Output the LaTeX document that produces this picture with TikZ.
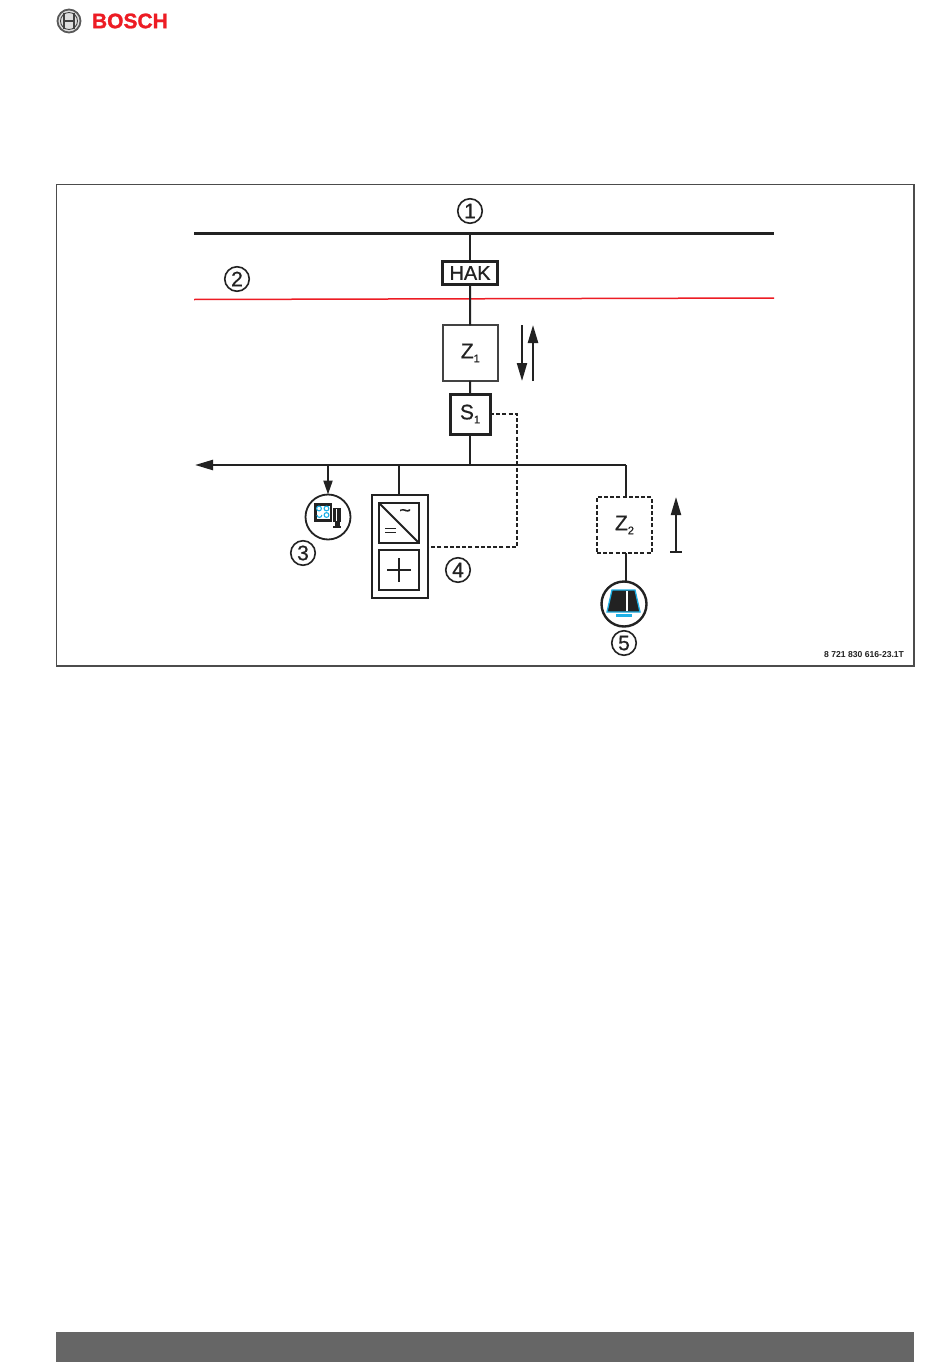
\documentclass[tikz,border=0pt]{standalone}
\usepackage{fontspec}
\setmainfont{Liberation Sans}
\newfontfamily\heavy[FakeBold=0.6]{Liberation Sans}
\newfontfamily\brandf[FakeBold=1.2]{Liberation Sans Bold}
\usetikzlibrary{arrows.meta,calc}
\definecolor{boschred}{HTML}{ED1C24}
\definecolor{cy}{HTML}{1DB0E6}
\definecolor{ink}{HTML}{222222}
\definecolor{bar}{HTML}{666666}
\newcommand{\lab}[1]{\fontsize{#1}{#1}\selectfont}
\newcommand{\sbs}[1]{\raisebox{-4pt}{\lab{11}#1}}
\tikzset{
 x=1pt,y=-1pt,
 every node/.style={inner sep=0pt,outer sep=0pt,text=ink},
 conn/.style={draw=ink,line width=2.1pt},
 dashconn/.style={draw=ink,line width=1.8pt,dash pattern=on 4pt off 2.2pt},
 rail/.style={draw=ink,line width=2.3pt},
 num/.style={circle,draw=ink,line width=1.6pt,minimum size=24.5pt,font=\heavy\lab{21}},
 sym/.style={circle,draw=ink,line width=1.8pt,minimum size=45pt},
 tip/.style={-{Triangle[length=18pt,width=10pt]}},
}
\begin{document}
\begin{tikzpicture}
\useasboundingbox (0,0) rectangle (950,1370);
\fill[white] (0,0) rectangle (950,1370);
% logo
\node[circle,draw=gray!70!black,line width=1.8pt,fill=gray!25,minimum size=23pt] (logo) at (69,21) {};
\draw[gray!50!black,line width=1.3pt] (64,13) -- (64,29) (74,13) -- (74,29) (64,21) -- (74,21);
\draw[gray!50!black,line width=.8pt] (logo.center) circle (8.5);
\node[font=\brandf\lab{21},text=boschred,anchor=west] (brand) at (92,21) {BOSCH};
% footer and frame
\fill[bar] (56,1332) rectangle (914,1362);
\draw[draw=gray!60!black,line width=1.2pt] (56.5,184.5) rectangle (914,666);
% rails
\coordinate (r1a) at (194,233.5); \coordinate (r1b) at (774,233.5);
\coordinate (r2a) at (194,299.5); \coordinate (r2b) at (774,298);
\coordinate (t1) at (470,233.5);
\coordinate (busend) at (195,465); \coordinate (bs) at (470,465);
\coordinate (b3) at (328,465); \coordinate (b4) at (399,465); \coordinate (b5) at (626,465);
\coordinate (dc1) at (517,414); \coordinate (dc2) at (517,547); \coordinate (dc3) at (428,547);
\draw[rail] (r1a) -- (r1b);
\draw[draw=boschred,line width=1.5pt] (r2a) -- (r2b);
% boxes
\node[draw=ink,line width=2.3pt,minimum width=55pt,minimum height=23pt,font=\heavy\lab{20}] (hak) at (470,273) {HAK};
\node[draw=ink!85,line width=1.9pt,minimum width=55.5pt,minimum height=55.5pt,font=\heavy\lab{21}] (z1) at (470.3,353) {Z\sbs{1}};
\node[draw=ink,line width=3pt,minimum width=40pt,minimum height=40pt,font=\heavy\lab{21}] (s1) at (470,414) {S\sbs{1}};
\node[draw=ink,line width=1.8pt,dash pattern=on 4pt off 2.2pt,minimum width=55pt,minimum height=56pt,font=\heavy\lab{21}] (z2) at (624.5,525) {Z\sbs{2}};
\node[draw=ink,line width=2.5pt,minimum width=56pt,minimum height=103pt] (inv) at (400,546.5) {};
\node[draw=ink,line width=2.5pt,minimum width=40pt,minimum height=40pt] (conv) at (399,523) {};
\node[draw=ink,line width=2.5pt,minimum width=40pt,minimum height=40pt] (batt) at (399,570) {};
\node[sym] (load) at (328,517) {};
\node[sym,line width=2.4pt] (car) at (624,604) {};
% connectors
\draw[conn] (t1) -- (hak.north -| t1);
\draw[conn] (hak) -- (z1);
\draw[conn] (z1) -- (s1);
\draw[conn] (s1) -- (bs);
\draw[rail,-{Triangle[length=18pt,width=10pt]}] (b5) -- (busend);
\draw[conn,-{Triangle[length=14pt,width=9pt]}] (b3) -- (load.north);
\draw[conn] (b4) -- (inv.north -| b4);
\draw[conn] (b5) -- (z2.north -| b5);
\draw[conn] (z2.south -| b5) -- (car.north -| b5);
\draw[dashconn] (s1.east) -- (dc1) -- (dc2) -- (dc3);
% inverter symbols
\draw[draw=ink,line width=2pt] (conv.north west) -- (conv.south east);
\node[font=\heavy\lab{20}] (ac) at (405,513) {\textasciitilde};
\draw[ink,line width=1.6pt] (385,528.5) -- (396,528.5) (385,532.5) -- (396,532.5);
\draw[ink,line width=2.3pt] (387,570) -- (411,570) (399,558) -- (399,582);
% load symbol
\fill[ink] (314,503) rectangle (332,522);
\fill[white] (316.5,505.5) rectangle (330,519);
\draw[cy,line width=1.1pt] (319,508.5) circle (2.4) (326.5,508.5) circle (2.4) (326.5,515) circle (2.4);
\draw[cy,line width=1.1pt] (317,515) arc (180:0:2.4);
\fill[ink] (333,508) rectangle (341,522);
\fill[white] (335.5,509) rectangle (336.5,521);
\fill[ink] (334.5,522) rectangle (339.5,526);
\fill[ink] (333,526) rectangle (341,528);
% car symbol
\fill[ink] (612,590) -- (635,590) -- (640,612) -- (607,612) -- cycle;
\draw[cy,line width=1.3pt] (612,590) -- (635,590) -- (640,612) -- (607,612) -- cycle;
\draw[white,line width=1.1pt] (627,591) -- (627,611);
\fill[cy] (616,614) rectangle (632,616.5);
% direction arrows
\coordinate (d1a) at (522,325); \coordinate (d1b) at (522,381);
\coordinate (d2a) at (533,381); \coordinate (d2b) at (533,325);
\coordinate (d3a) at (676,552); \coordinate (d3b) at (676,497);
\draw[conn,tip] (d1a) -- (d1b);
\draw[draw=ink,line width=2.4pt,tip] (d2a) -- (d2b);
\draw[conn,tip] (d3a) -- (d3b);
\draw[conn] (670,552) -- (682,552);
% numbers
\node[num] (n1) at (470,211) {1};
\node[num] (n2) at (237,279) {2};
\node[num] (n3) at (303,553) {3};
\node[num] (n4) at (458,570) {4};
\node[num] (n5) at (624,643) {5};
\node[font=\bfseries\lab{8.6},anchor=east] (code) at (904,655) {8 721 830 616-23.1T};
\end{tikzpicture}
\end{document}
